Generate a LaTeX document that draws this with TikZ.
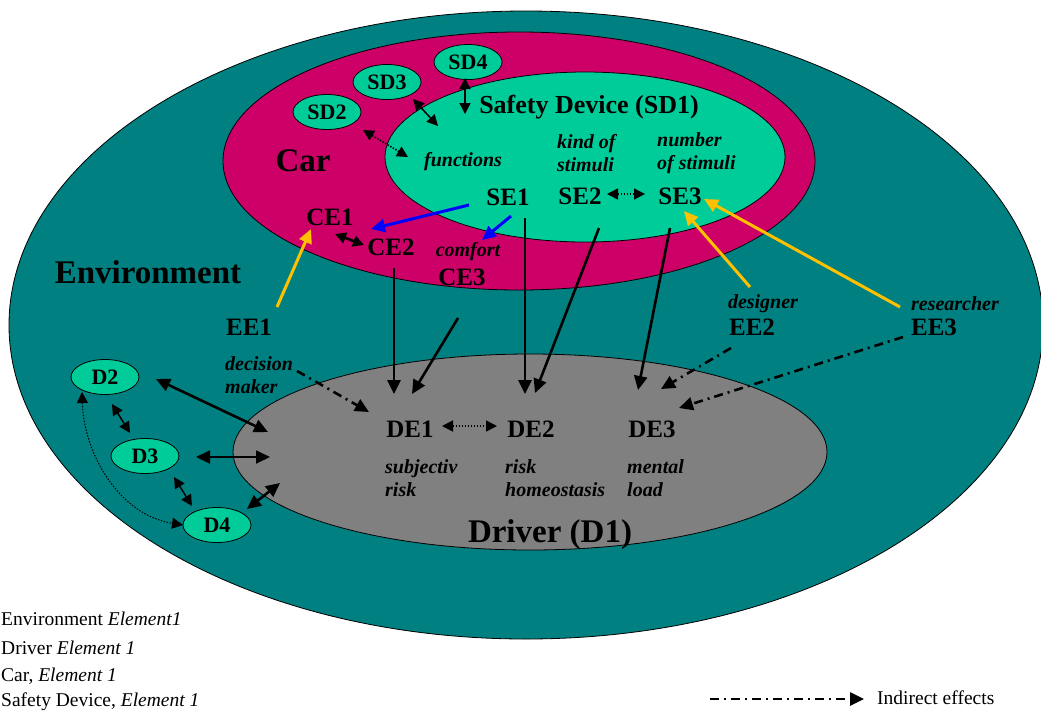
\documentclass[tikz,border=0pt]{standalone}
\usepackage{fontspec}
\setmainfont{Liberation Serif}
\usetikzlibrary{arrows.meta,shapes.geometric}
\definecolor{envc}{HTML}{008080}
\definecolor{carc}{HTML}{CC0066}
\definecolor{sdc}{HTML}{00CC99}
\definecolor{drvc}{HTML}{808080}
\definecolor{yel}{HTML}{FFC000}
\definecolor{blu}{HTML}{0000FF}
\tikzset{
  region/.style={ellipse, draw=black, line width=0.8pt, inner sep=0pt},
  smallell/.style={ellipse, draw=black, line width=0.8pt, fill=sdc, minimum width=68pt, minimum height=35pt, inner sep=0pt, font=\fontsize{22}{24}\selectfont\bfseries},
  lbl/.style={font=\fontsize{25}{28}\selectfont\bfseries, inner sep=0pt},
  bigtxt/.style={font=\fontsize{33}{36}\selectfont\bfseries, inner sep=0pt},
  ittxt/.style={font=\fontsize{20}{23}\selectfont\bfseries\itshape, inner sep=0pt, align=left},
  legtxt/.style={font=\fontsize{19.5}{21}\selectfont, inner sep=0pt, anchor=west},
  onetip/.style={arrows={-Triangle[length=14pt,width=13pt]}},
  twotip/.style={arrows={Triangle[length=14pt,width=13pt]-Triangle[length=14pt,width=13pt]}},
  smalltwotip/.style={arrows={Triangle[length=11pt,width=11pt]-Triangle[length=11pt,width=11pt]}},
  solidarr/.style={line width=2.6pt, black},
  dotarr/.style={line width=1.5pt, black, dash pattern=on 1.5pt off 1.5pt},
  dasharr/.style={line width=2.6pt, black, dash pattern=on 9pt off 5pt on 2pt off 5pt},
  yelarr/.style={line width=3pt, yel, onetip},
  bluarr/.style={line width=3pt, blu, onetip},
}
\begin{document}
\begin{tikzpicture}[x=1pt,y=-1pt]
\useasboundingbox (0,0) rectangle (1041,713);
% regions
\node[region, fill=envc, minimum width=1034pt, minimum height=628pt] (env) at (526,325) {};
\node[region, fill=carc, minimum width=592pt, minimum height=258pt] (car) at (519,161) {};
\node[region, fill=sdc, minimum width=400pt, minimum height=170pt] (sdone) at (585,157) {};
\node[region, fill=drvc, minimum width=594pt, minimum height=196pt] (drv) at (530,452) {};
% big titles
\node[bigtxt] (tenv) at (148,272) {Environment};
\node[bigtxt] (tcar) at (303,161) {Car};
\node[font=\fontsize{26}{28}\selectfont\bfseries, inner sep=0pt] (tsd) at (589,107) {Safety Device (SD1)};
\node[bigtxt] (tdrv) at (550,535) {Driver (D1)};
% small ellipses
\node[smallell] (sd2) at (327,112) {SD2};
\node[smallell] (sd3) at (387,82) {SD3};
\node[smallell] (sd4) at (468,62) {SD4};
\node[smallell] (d2) at (105,377) {D2};
\node[smallell] (d3) at (145,456) {D3};
\node[smallell] (d4) at (217,525) {D4};
% element labels
\node[lbl] (se1) at (508,197) {SE1};
\node[lbl] (se2) at (580,196) {SE2};
\node[lbl] (se3) at (680,196) {SE3};
\node[lbl] (ce1) at (330,217) {CE1};
\node[lbl] (ce2) at (391,247) {CE2};
\node[lbl] (ce3) at (462,277) {CE3};
\node[lbl] (ee1) at (249,327) {EE1};
\node[lbl] (ee2) at (752,327) {EE2};
\node[lbl] (ee3) at (934,327) {EE3};
\node[lbl] (de1) at (410,429) {DE1};
\node[lbl] (de2) at (531,429) {DE2};
\node[lbl] (de3) at (652,429) {DE3};
% italic descriptions
\node[ittxt] (tfun) at (463,162) {functions};
\node[ittxt, anchor=west] (tkind) at (557,153) {kind of\\stimuli};
\node[ittxt, anchor=west] (tnum) at (657,153) {number\\of stimuli};
\node[ittxt] (tcomf) at (468,252) {comfort};
\node[ittxt] (tdes) at (763,304) {designer};
\node[ittxt] (tres) at (955,304) {researcher};
\node[ittxt, anchor=west] (tdec) at (225,375) {decision\\maker};
\node[ittxt, anchor=west] (tsubj) at (385,478) {subjectiv\\risk};
\node[ittxt, anchor=west] (thom) at (505,478) {risk\\homeostasis};
\node[ittxt, anchor=west] (tment) at (627,478) {mental\\load};
% legend
\node[legtxt] (leg1) at (1,619) {Environment \textit{Element1}};
\node[legtxt] (leg2) at (1,648) {Driver \textit{Element 1}};
\node[legtxt] (leg3) at (1,676) {Car, \textit{Element 1}};
\node[legtxt] (leg4) at (1,702) {Safety Device, \textit{Element 1}};
\node[legtxt] (legind) at (877,698) {Indirect effects};
% connector end points
\coordinate (sd4a) at (465,78);   \coordinate (sd4b) at (465,114);
\coordinate (sd3a) at (413,99);   \coordinate (sd3b) at (438,126);
\coordinate (sd2a) at (363,130);  \coordinate (sd2b) at (408,157);
\coordinate (se1a) at (469,205);  \coordinate (ce1a) at (371,229);
\coordinate (se1b) at (511,216);  \coordinate (ce3a) at (482,240);
\coordinate (ce1b) at (335,234);  \coordinate (ce2a) at (364,245);
\coordinate (ee1a) at (277,307);  \coordinate (ce1c) at (311,229);
\coordinate (ee2a) at (750,287);  \coordinate (se3a) at (684,211);
\coordinate (ee3a) at (900,307);  \coordinate (se3b) at (704,199);
\coordinate (se2a) at (607,194);  \coordinate (se3c) at (645,194);
\coordinate (ce2b) at (394,268);  \coordinate (de1a) at (394,394);
\coordinate (ce3b) at (458,318);  \coordinate (de1b) at (412,394);
\coordinate (se1c) at (525,218);  \coordinate (de2a) at (525,394);
\coordinate (se2b) at (599,228);  \coordinate (de2b) at (535,393);
\coordinate (se3d) at (670,228);  \coordinate (de3a) at (638,390);
\coordinate (de1c) at (442,426);  \coordinate (de2c) at (497,426);
\coordinate (deca) at (297,371);  \coordinate (de1d) at (369,412);
\coordinate (ee2b) at (731,348);  \coordinate (de3b) at (661,389);
\coordinate (ee3b) at (903,337);  \coordinate (de3c) at (679,408);
\coordinate (d2a) at (156,379);   \coordinate (drva) at (268,432);
\coordinate (d3a) at (196,457);   \coordinate (drvb) at (270,457);
\coordinate (d4a) at (247,509);   \coordinate (drvc) at (280,483);
\coordinate (d2b) at (112,404);   \coordinate (d3b) at (130,433);
\coordinate (d3c) at (174,477);   \coordinate (d4b) at (192,506);
\coordinate (d2c) at (82,392);    \coordinate (d4c) at (183,525);
\coordinate (legstart) at (710,699); \coordinate (legend) at (864,699);
% safety device links
\draw[solidarr, line width=1.5pt, smalltwotip] (sd4a) -- (sd4b);
\draw[solidarr, line width=1.5pt, smalltwotip] (sd3a) -- (sd3b);
\draw[dotarr, smalltwotip] (sd2a) -- (sd2b);
% blue
\draw[bluarr] (se1a) -- (ce1a);
\draw[bluarr] (se1b) -- (ce3a);
% car internal
\draw[solidarr, smalltwotip] (ce1b) -- (ce2a);
% yellow
\draw[yelarr] (ee1a) -- (ce1c);
\draw[yelarr] (ee2a) -- (se3a);
\draw[yelarr] (ee3a) -- (se3b);
% SE2-SE3
\draw[dotarr, smalltwotip] (se2a) -- (se3c);
% down to driver
\draw[solidarr, onetip] (ce2b) -- (de1a);
\draw[solidarr, onetip] (ce3b) -- (de1b);
\draw[solidarr, onetip] (se1c) -- (de2a);
\draw[solidarr, onetip] (se2b) -- (de2b);
\draw[solidarr, onetip] (se3d) -- (de3a);
% DE1-DE2
\draw[dotarr, smalltwotip] (de1c) -- (de2c);
% indirect effects
\draw[dasharr, onetip] (deca) -- (de1d);
\draw[dasharr, onetip] (ee2b) -- (de3b);
\draw[dasharr, onetip] (ee3b) -- (de3c);
% driver links
\draw[solidarr, twotip] (d2a) -- (drva);
\draw[solidarr, line width=1.8pt, twotip] (d3a) -- (drvb);
\draw[solidarr, twotip] (d4a) -- (drvc);
\draw[solidarr, line width=1.5pt, smalltwotip] (d2b) -- (d3b);
\draw[solidarr, line width=1.5pt, smalltwotip] (d3c) -- (d4b);
\draw[dotarr, line width=1pt, smalltwotip] (d2c) .. controls (84,455) and (120,515) .. (d4c);
% legend arrow
\draw[dasharr, onetip] (legstart) -- (legend);
\end{tikzpicture}
\end{document}
